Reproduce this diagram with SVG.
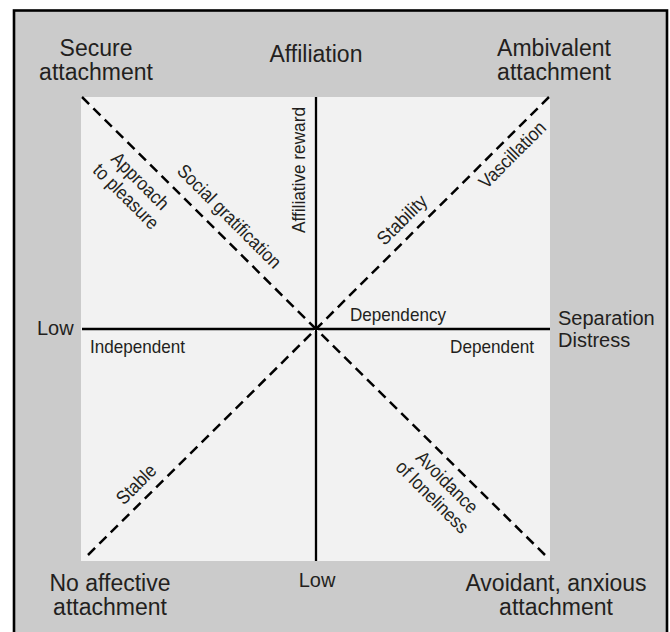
<svg xmlns="http://www.w3.org/2000/svg" width="670" height="632" viewBox="0 0 670 632">
  <style>
    text { font-family: "Liberation Sans", Arial, sans-serif; fill: #231f20; }
    .big { font-size: 23px; text-anchor: middle; }
    .mid { font-size: 20px; }
    .small { font-size: 19px; }
    .axis { stroke: #000; stroke-width: 2.3; fill: none; }
    .dash { stroke: #000; stroke-width: 2.5; stroke-dasharray: 10 6; fill: none; }
    .dash-under { stroke: #fff; stroke-width: 1; fill: none; }
  </style>

  <!-- frame and plotting area -->
  <rect x="0" y="0" width="670" height="632" fill="#fff"/>
  <rect x="14" y="10.5" width="653" height="640" fill="#cbcbcb" stroke="#000" stroke-width="2.6"/>
  <rect x="81" y="97" width="469" height="464" fill="#f2f2f2"/>

  <!-- axes and diagonals -->
  <g id="connectors">
    <line class="axis" x1="316" y1="97" x2="316" y2="561"/>
    <line class="axis" x1="82" y1="329" x2="550" y2="329"/>
    <g id="diagonals-under">
      <line class="dash-under" x1="82" y1="97" x2="316" y2="329"/>
      <line class="dash-under" x1="549" y1="97" x2="316" y2="329"/>
      <line class="dash-under" x1="88" y1="555" x2="316" y2="329"/>
      <line class="dash-under" x1="545" y1="555" x2="316" y2="329"/>
    </g>
    <line class="dash" x1="82" y1="97" x2="316" y2="329"/>
    <line class="dash" x1="549" y1="97" x2="316" y2="329"/>
    <line class="dash" x1="88" y1="555" x2="316" y2="329"/>
    <line class="dash" x1="545" y1="555" x2="316" y2="329"/>
  </g>

  <!-- corner and axis-end labels -->
  <g id="secure-attachment">
    <text class="big" x="96" y="56">Secure</text>
    <text class="big" x="96" y="80">attachment</text>
  </g>
  <g id="affiliation">
    <text class="big" x="316" y="62">Affiliation</text>
  </g>
  <g id="ambivalent-attachment">
    <text class="big" x="554" y="56">Ambivalent</text>
    <text class="big" x="554" y="80">attachment</text>
  </g>
  <g id="low-left">
    <text class="mid" x="37" y="335">Low</text>
  </g>
  <g id="separation-distress">
    <text class="mid" x="558" y="325">Separation</text>
    <text class="mid" x="558" y="347">Distress</text>
  </g>
  <g id="no-affective-attachment">
    <text class="big" x="110" y="591">No affective</text>
    <text class="big" x="110" y="615">attachment</text>
  </g>
  <g id="low-bottom">
    <text class="mid" x="317" y="587" text-anchor="middle">Low</text>
  </g>
  <g id="avoidant-anxious-attachment">
    <text class="big" x="556" y="591">Avoidant, anxious</text>
    <text class="big" x="556" y="615">attachment</text>
  </g>

  <!-- labels along the axes -->
  <g id="independent">
    <text class="small" x="90" y="353" textLength="95" lengthAdjust="spacingAndGlyphs">Independent</text>
  </g>
  <g id="dependent">
    <text class="small" x="534" y="353" text-anchor="end" textLength="84" lengthAdjust="spacingAndGlyphs">Dependent</text>
  </g>
  <g id="dependency">
    <text class="small" x="350" y="321" textLength="96" lengthAdjust="spacingAndGlyphs">Dependency</text>
  </g>
  <g id="affiliative-reward" transform="translate(305,170) rotate(-90)">
    <text class="small" x="0" y="0" text-anchor="middle" textLength="126" lengthAdjust="spacingAndGlyphs">Affiliative reward</text>
  </g>

  <!-- labels along the diagonals (down-right direction) -->
  <g transform="translate(316,329) rotate(45)">
    <g id="social-gratification">
      <text class="small" x="-141" y="-12" text-anchor="middle" textLength="138" lengthAdjust="spacingAndGlyphs">Social gratification</text>
    </g>
    <g id="approach-to-pleasure">
      <text class="small" x="-229" y="26" text-anchor="middle" textLength="73" lengthAdjust="spacingAndGlyphs">Approach</text>
      <text class="small" x="-228" y="47" text-anchor="middle" textLength="84" lengthAdjust="spacingAndGlyphs">to pleasure</text>
    </g>
    <g id="avoidance-of-loneliness">
      <text class="small" x="201" y="22" text-anchor="middle" textLength="79" lengthAdjust="spacingAndGlyphs">Avoidance</text>
      <text class="small" x="201" y="43" text-anchor="middle" textLength="94" lengthAdjust="spacingAndGlyphs">of loneliness</text>
    </g>
  </g>

  <!-- labels along the diagonals (up-right direction) -->
  <g transform="translate(316,329) rotate(-45)">
    <g id="stability">
      <text class="small" x="138" y="-10" text-anchor="middle" textLength="62" lengthAdjust="spacingAndGlyphs">Stability</text>
    </g>
    <g id="vascillation">
      <text class="small" x="262" y="22" text-anchor="middle" textLength="86" lengthAdjust="spacingAndGlyphs">Vascillation</text>
    </g>
    <g id="stable">
      <text class="small" x="-237" y="-11" text-anchor="middle" textLength="48" lengthAdjust="spacingAndGlyphs">Stable</text>
    </g>
  </g>
</svg>
